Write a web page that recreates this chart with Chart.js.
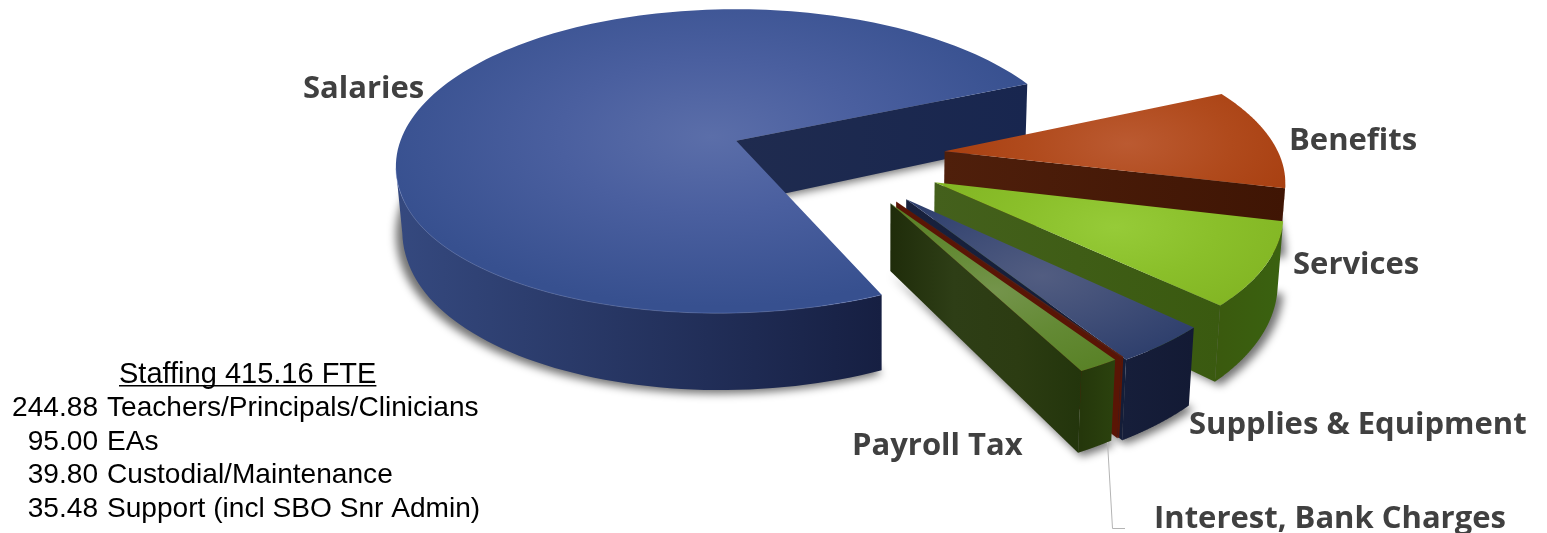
<!DOCTYPE html>
<html>
<head>
<meta charset="utf-8">
<title>Budget breakdown</title>
<script src="https://cdn.jsdelivr.net/npm/chart.js@4"></script>
<style>
    html, body { margin: 0; padding: 0; background: #fff; }
    canvas { display: block; }
</style>
</head>
<body>
<canvas id="budgetChart" width="1547" height="533"></canvas>
<script>
// Budget share by category, in percent
const categories = ['Salaries', 'Benefits', 'Services', 'Supplies & Equipment', 'Interest, Bank Charges', 'Payroll Tax'];
const shares = [75.0, 10.8, 8.55, 3.9, 0.1, 1.65];

const staffingTitle = 'Staffing 415.16 FTE';
const staffingCounts = ['244.88', '95.00', '39.80', '35.48'];
const staffingRoles = ['Teachers/Principals/Clinicians', 'EAs', 'Custodial/Maintenance', 'Support (incl SBO Snr Admin)'];

// how far each slice is pulled out, percent of the radius
const explode = [30, 34, 34.5, 35, 34.5, 34.5];
// radius of each slice relative to the main one
const reach = [1, 0.985, 0.975, 0.975, 0.965, 0.965];
// degrees the pull-out direction turns away from the slice's middle
const drift = [0, 0, 0, 0, -2, -2];
// degrees the thin front slices are turned on the ground plane
const turn = [0, 0, 0, 0, -2, -2];

// ground plane perspective: explosion centre and the vanishing points
const origin = { x: 830, y: 156 };
const vanishA = { x: 5300, y: -750, k: 0.0693 };
const vanishB = { x: -105, y: -750, k: -0.150 };
const vanishDown = { x: 880, dist: 4900 };
const sideHeight = 64;

function project(a, b) {
    const u = vanishA.k * a, v = vanishB.k * b;
    const w = 1 + u + v;
    return {
        x: (origin.x + u * vanishA.x + v * vanishB.x) / w,
        y: (origin.y + u * vanishA.y + v * vanishB.y) / w,
        w: w
    };
}

// bottom edge point below a top edge point, verticals lean towards vanishDown
function drop(p) {
    const h = sideHeight / Math.pow(p.w, 1.15);
    return { x: p.x + (vanishDown.x - p.x) * h / vanishDown.dist, y: p.y + h };
}

const sliceStyles = [
    { glow: ['#5b6ea9', '#4a5f9f', '#37508f'], glowAt: 0.08, glowR: 340, wall: ['#1f2b4f', '#18264f'], rim: ['#35497f', '#161f42'] },
    { glow: ['#bb5a31', '#b04a1c', '#a3390a'], glowAt: 0.55, glowR: 230, wall: ['#4f1f0b', '#3f1504'], rim: ['#4f1f0b', '#3f1504'] },
    { glow: ['#96cb38', '#8abf2a', '#7fb121'], glowAt: 0.55, glowR: 230, wall: ['#44601c', '#3a5a10'], rim: ['#3a5a0e', '#3a6210'] },
    { glow: ['#525d81', '#414f78', '#2c3d6b'], glowAt: 0.55, glowR: 200, wall: ['#18213d', '#141d38'], rim: ['#161e3a', '#131a34'] },
    { glow: ['#5c2010', '#5c2010', '#5c2010'], glowAt: 0.55, glowR: 200, wall: ['#5a1505', '#5a1505'], rim: ['#5a1505', '#5a1505'] },
    { glow: ['#74944b', '#648a35', '#578024'], glowAt: 0.55, glowR: 200, wall: ['#1f2c0a', '#2e3e16', '#2c3c12', '#23350c'], rim: ['#25370b', '#2b420e'] }
];

const labelFont = 'bold 31px "Open Sans", Lato, sans-serif';
const labelSpots = [
    { x: 303, y: 98 }, { x: 1289, y: 150 }, { x: 1293, y: 274 },
    { x: 1189, y: 434 }, { x: 1154, y: 528 }, { x: 852, y: 455 }
];

function slicePoints(el, index, steps) {
    const off = el.options.offset / 100;
    const mid = (el.startAngle + el.endAngle) / 2;
    const dir = mid + drift[index] * Math.PI / 180;
    const ox = Math.cos(dir) * off, oy = Math.sin(dir) * off;
    const r = reach[index];
    const spin = turn[index] * Math.PI / 180;
    const arc = [];
    for (let i = 0; i <= steps; i++) {
        const t = el.startAngle + (el.endAngle - el.startAngle) * i / steps + spin;
        let cx = Math.cos(t) * r, cy = Math.sin(t) * r;
        // the far left of the big slice sits a little tighter and higher
        if (index === 0) {
            if (cx < 0) cx *= 0.99;
            if (cy < 0) cy *= 1.08;
        }
        arc.push(project(ox + cx, oy + cy));
    }
    return { apex: project(ox, oy), arc: arc, ox: ox, oy: oy, mid: mid };
}

function trace(ctx, pts) {
    ctx.beginPath();
    pts.forEach((p, i) => i ? ctx.lineTo(p.x, p.y) : ctx.moveTo(p.x, p.y));
    ctx.closePath();
}

// fills the strip hanging below a run of top edge points
function fillWall(ctx, run, colors) {
    if (run.length < 2) return;
    const xs = run.map(p => p.x);
    const g = ctx.createLinearGradient(Math.min(...xs), 0, Math.max(...xs), 0);
    colors.forEach((c, i) => g.addColorStop(i / (colors.length - 1), c));
    trace(ctx, run.concat(run.map(drop).reverse()));
    ctx.fillStyle = g;
    ctx.fill();
}

function drawSlice(ctx, el, index) {
    const style = sliceStyles[index];
    const s = slicePoints(el, index, 160);
    const first = s.arc[0], last = s.arc[s.arc.length - 1];

    // only edges running right to left on a clockwise walk face the viewer
    if (first.x < s.apex.x) fillWall(ctx, [s.apex, first], style.wall);
    if (s.apex.x < last.x) fillWall(ctx, [last, s.apex], style.wall);
    const run = [];
    for (let i = 1; i < s.arc.length; i++) {
        if (s.arc[i].x < s.arc[i - 1].x) {
            if (!run.length) run.push(s.arc[i - 1]);
            run.push(s.arc[i]);
        }
    }
    fillWall(ctx, run, style.rim);

    // top face with a soft elliptical highlight
    const c = project(s.ox + Math.cos(s.mid) * style.glowAt, s.oy + Math.sin(s.mid) * style.glowAt);
    trace(ctx, [s.apex].concat(s.arc));
    ctx.save();
    ctx.translate(c.x, c.y);
    ctx.scale(1, 0.5);
    const g = ctx.createRadialGradient(0, 0, 0, 0, 0, style.glowR);
    g.addColorStop(0, style.glow[0]);
    g.addColorStop(0.45, style.glow[1]);
    g.addColorStop(1, style.glow[2]);
    ctx.fillStyle = g;
    ctx.fill();
    ctx.restore();

    // faint catch light along the front rim
    if (index === 0 && run.length) {
        ctx.beginPath();
        run.forEach((p, i) => i ? ctx.lineTo(p.x, p.y) : ctx.moveTo(p.x, p.y));
        ctx.strokeStyle = 'rgba(130,150,210,0.35)';
        ctx.lineWidth = 1;
        ctx.stroke();
    }
}

function drawShadow(ctx, el, index) {
    const s = slicePoints(el, index, 120);
    const base = [s.apex].concat(s.arc).map(p => {
        return { x: p.x, y: p.y + (sideHeight + 3) / Math.pow(p.w, 1.15) };
    });
    trace(ctx, base);
    ctx.save();
    ctx.filter = 'blur(4px)';
    ctx.fillStyle = 'rgba(0,0,0,0.55)';
    ctx.fill();
    ctx.restore();
}

// Replaces the flat arcs with extruded slices built from the arc elements' angles
const extrudedPie = {
    id: 'extrudedPie',
    beforeDatasetsDraw(chart) {
        const ctx = chart.ctx;
        const arcs = chart.getDatasetMeta(0).data;
        ctx.save();
        arcs.forEach((el, i) => drawShadow(ctx, el, i));
        arcs.forEach((el, i) => drawSlice(ctx, el, i));
        ctx.restore();
        return false;
    },
    afterDraw(chart) {
        const ctx = chart.ctx;
        ctx.save();
        ctx.textBaseline = 'alphabetic';
        ctx.textAlign = 'left';

        // leader line of the interest label
        ctx.strokeStyle = '#b4b4b4';
        ctx.lineWidth = 1;
        ctx.beginPath();
        ctx.moveTo(1107.5, 442);
        ctx.lineTo(1112.5, 528.5);
        ctx.lineTo(1125, 528.5);
        ctx.stroke();

        ctx.font = labelFont;
        ctx.fillStyle = '#404040';
        categories.forEach((name, i) => ctx.fillText(name, labelSpots[i].x, labelSpots[i].y));

        // staffing note
        ctx.font = '29px "Liberation Sans", Arial, sans-serif';
        ctx.fillStyle = '#000';
        ctx.fillText(staffingTitle, 119, 383);
        const w = ctx.measureText(staffingTitle).width;
        ctx.fillRect(119, 385, w, 1.5);
        ctx.font = '28.1px "Liberation Sans", Arial, sans-serif';
        staffingCounts.forEach((count, i) => {
            const base = 416 + i * 33.7;
            ctx.textAlign = 'right';
            ctx.fillText(count, 98, base);
            ctx.textAlign = 'left';
            ctx.fillText(staffingRoles[i], 107, base);
        });
        ctx.restore();
    }
};

new Chart(document.getElementById('budgetChart').getContext('2d'), {
    type: 'pie',
    data: {
        labels: categories,
        datasets: [{
            label: 'Budget share',
            data: shares,
            offset: explode,
            backgroundColor: sliceStyles.map(s => s.glow[2]),
            borderWidth: 0
        }]
    },
    options: {
        responsive: false,
        animation: false,
        rotation: 180,
        events: [],
        plugins: {
            legend: { display: false },
            tooltip: { enabled: false }
        }
    },
    plugins: [extrudedPie]
});
</script>
</body>
</html>
